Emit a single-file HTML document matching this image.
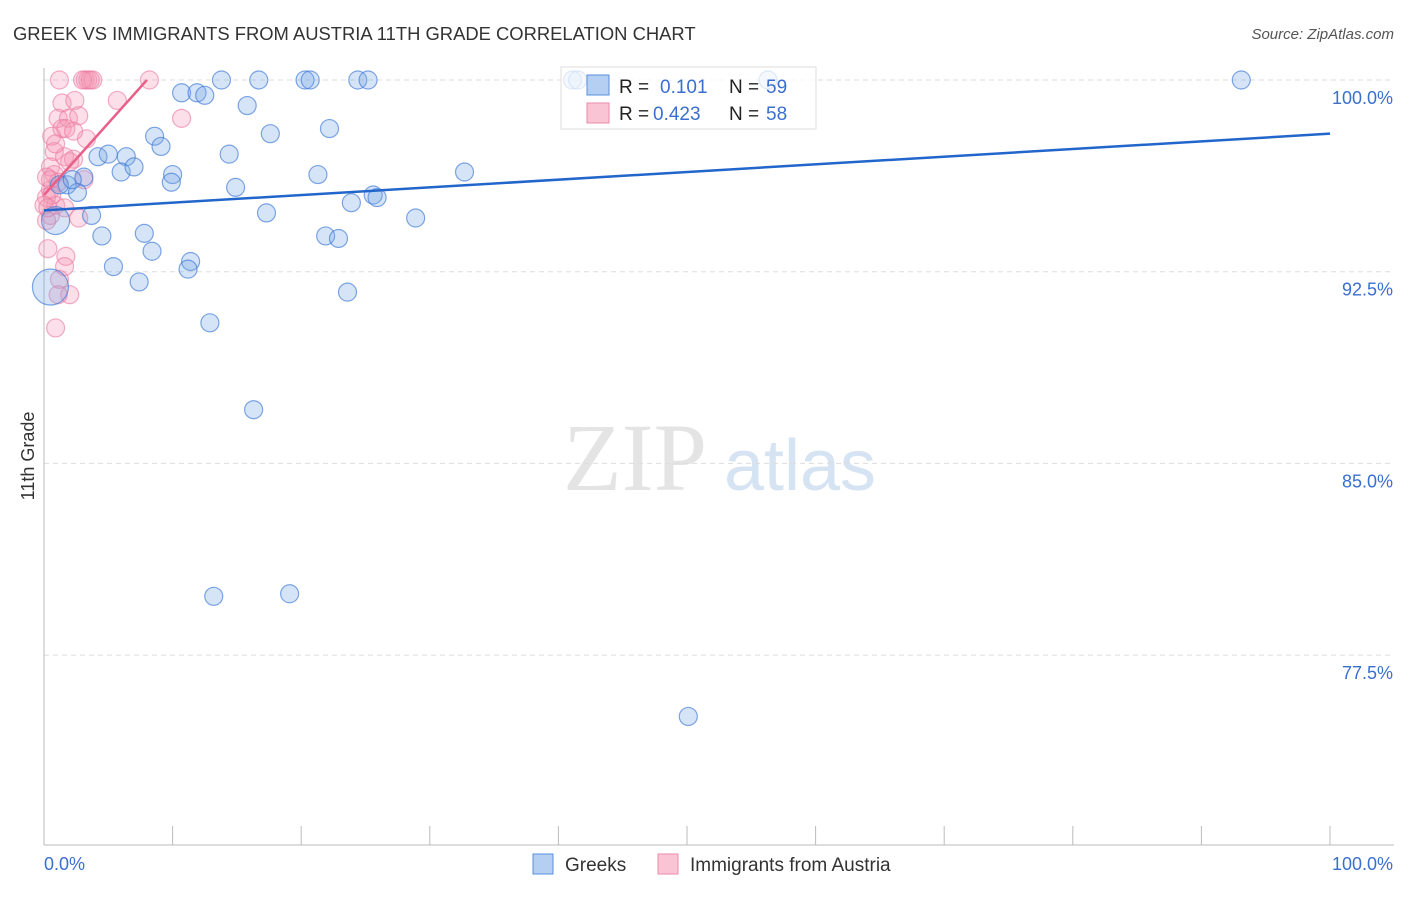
<!DOCTYPE html>
<html><head><meta charset="utf-8"><style>
body{margin:0;background:#fff;font-family:"Liberation Sans",sans-serif}
</style></head><body>
<svg id="chart" width="1406" height="892" xmlns="http://www.w3.org/2000/svg" font-family="Liberation Sans, sans-serif">
<text x="13" y="40" font-size="18.4" fill="#333">GREEK VS IMMIGRANTS FROM AUSTRIA 11TH GRADE CORRELATION CHART</text>
<text x="1394" y="39" font-size="15" fill="#555" text-anchor="end" font-style="italic">Source: ZipAtlas.com</text>
<text transform="translate(34,456) rotate(-90)" font-size="18" fill="#333" text-anchor="middle">11th Grade</text>
<g>
<text x="635" y="490" font-size="96" fill="#e4e4e4" text-anchor="middle" font-family="Liberation Serif, serif">ZIP</text>
<text x="800" y="490" font-size="72" fill="#d6e3f3" text-anchor="middle">atlas</text>
</g>
<g id="grid"></g><g id="axes"></g><g id="marks"></g>
<g>
<rect x="561" y="67" width="255" height="62" fill="rgba(255,255,255,0.75)" stroke="#ddd"/>
<rect x="587" y="75" width="22" height="20" fill="#b5cff2" stroke="#5a8fdc"/>
<rect x="587" y="103" width="22" height="20" fill="#f9c5d4" stroke="#eb8aa8"/>
<text x="619" y="93" font-size="19" fill="#222">R = </text><text x="660" y="93" font-size="19" fill="#3a6fd0">0.101</text>
<text x="729" y="93" font-size="19" fill="#222">N = </text><text x="766" y="93" font-size="19" fill="#3a6fd0">59</text>
<text x="619" y="120" font-size="19" fill="#222">R = </text><text x="653" y="120" font-size="19" fill="#3a6fd0">0.423</text>
<text x="729" y="120" font-size="19" fill="#222">N = </text><text x="766" y="120" font-size="19" fill="#3a6fd0">58</text>
</g>
<g>
<rect x="533" y="854" width="20" height="20" fill="#b5cff2" stroke="#5a8fdc"/>
<text x="565" y="871" font-size="19" fill="#333">Greeks</text>
<rect x="658" y="854" width="20" height="20" fill="#f9c5d4" stroke="#eb8aa8"/>
<text x="690" y="871" font-size="19" fill="#333">Immigrants from Austria</text>
</g>
</svg>
<script>
const yTicks=[100,92.5,85,77.5];
const yTickLabels=["100.0%","92.5%","85.0%","77.5%"];
const xLabels=["0.0%","100.0%"];
const greekX=[0.9,0.5,10.7,11.9,12.5,13.8,16.7,20.3,20.7,24.4,25.2,15.8,17.6,22.2,8.6,9.1,4.2,5.0,6.4,6.0,7.0,10.0,9.9,3.1,1.8,2.6,14.4,14.9,21.3,32.7,17.3,23.9,25.6,25.9,28.9,3.7,4.5,7.8,8.4,5.4,7.4,11.4,11.2,21.9,22.9,23.6,12.9,16.3,13.2,19.1,50.1,93.1,41.1,41.5,56.3,1.2,2.2];
const greekY=[94.5,91.9,99.5,99.5,99.4,100,100,100,100,100,100,99.0,97.9,98.1,97.8,97.4,97.0,97.1,97.0,96.4,96.6,96.3,96.0,96.2,95.9,95.6,97.1,95.8,96.3,96.4,94.8,95.2,95.5,95.4,94.6,94.7,93.9,94.0,93.3,92.7,92.1,92.9,92.6,93.9,93.8,91.7,90.5,87.1,79.8,79.9,75.1,100,100,100,100,95.9,96.1];
const greekR=[14,18];
const ausX=[1.2,3.2,3.4,3.8,3.0,8.2,5.7,10.7,1.4,2.4,1.1,1.9,2.7,1.4,3.3,0.6,0.8,1.6,2.3,0.5,0.8,1.1,0.5,0.2,0.9,1.6,2.7,0.5,0.2,0.3,1.7,1.2,1.6,2.0,1.1,0.9,3.1,2.0,0.5,0.6,0,0.3,0.2,0.9,1.7,2.3,3.6];
const ausY=[100,100,100,100,100,100,99.2,98.5,99.1,99.2,98.5,98.5,98.6,98.1,97.7,97.8,97.2,97.0,96.9,96.6,96.3,96.0,95.7,95.4,95.1,95.0,94.6,94.7,94.5,93.4,93.1,92.2,92.7,91.6,91.6,90.3,96.1,96.8,96.1,95.5,95.1,95.0,96.2,97.5,98.1,98.0,100];
const greekTrend=[0,94.9,100,97.9];
const ausTrend=[0,95.5,8.0,100];
const X=v=>44+v*12.86, Y=v=>80+(100-v)*25.56;
const ns="http://www.w3.org/2000/svg";
function mk(t,a,p){const e=document.createElementNS(ns,t);for(const k in a)e.setAttribute(k,a[k]);p.appendChild(e);return e;}
const grid=document.getElementById('grid'),axes=document.getElementById('axes'),marks=document.getElementById('marks');
yTicks.forEach((v,i)=>{
 const l=mk('line',{x1:44,x2:1394,y1:Y(v),y2:Y(v),stroke:'#ddd','stroke-dasharray':'5,4'},grid);
 
 
 const t=mk('text',{x:1393,y:Y(v)+24,'font-size':18,fill:'#3a6fd0','text-anchor':'end'},axes);
 t.textContent=yTickLabels[i];
 
 
});
const ya=mk('line',{x1:44,x2:44,y1:68,y2:845,stroke:'#bbb'},axes);


const xa=mk('line',{x1:44,x2:1394,y1:845,y2:845,stroke:'#bbb'},axes);


for(let i=0;i<=10;i++){const t=mk('line',{x1:X(i*10),x2:X(i*10),y1:826,y2:845,stroke:'#bbb'},axes);
 
 }
xLabels.forEach((s,i)=>{const t=mk('text',{x:i?1393:44,y:870,'font-size':18,fill:'#3a6fd0','text-anchor':i?'end':'start'},axes);t.textContent=s;
 
 });
ausX.forEach((x,i)=>{const c=mk('circle',{cx:X(x),cy:Y(ausY[i]),r:9,fill:'rgba(245,150,180,0.3)',stroke:'rgba(235,120,160,0.6)','stroke-width':1.2},marks);
 
 });
greekX.forEach((x,i)=>{const c=mk('circle',{cx:X(x),cy:Y(greekY[i]),r:greekR[i]||9,fill:'rgba(120,165,230,0.3)',stroke:'rgba(60,120,215,0.65)','stroke-width':1.2},marks);
 
 });
const gl=mk('line',{x1:X(greekTrend[0]),y1:Y(greekTrend[1]),x2:X(greekTrend[2]),y2:Y(greekTrend[3]),stroke:'#2266cc','stroke-width':2.5},marks);


const al=mk('line',{x1:X(ausTrend[0]),y1:Y(ausTrend[1]),x2:X(ausTrend[2]),y2:Y(ausTrend[3]),stroke:'#e8608a','stroke-width':2.5},marks);


</script>
</body></html>
